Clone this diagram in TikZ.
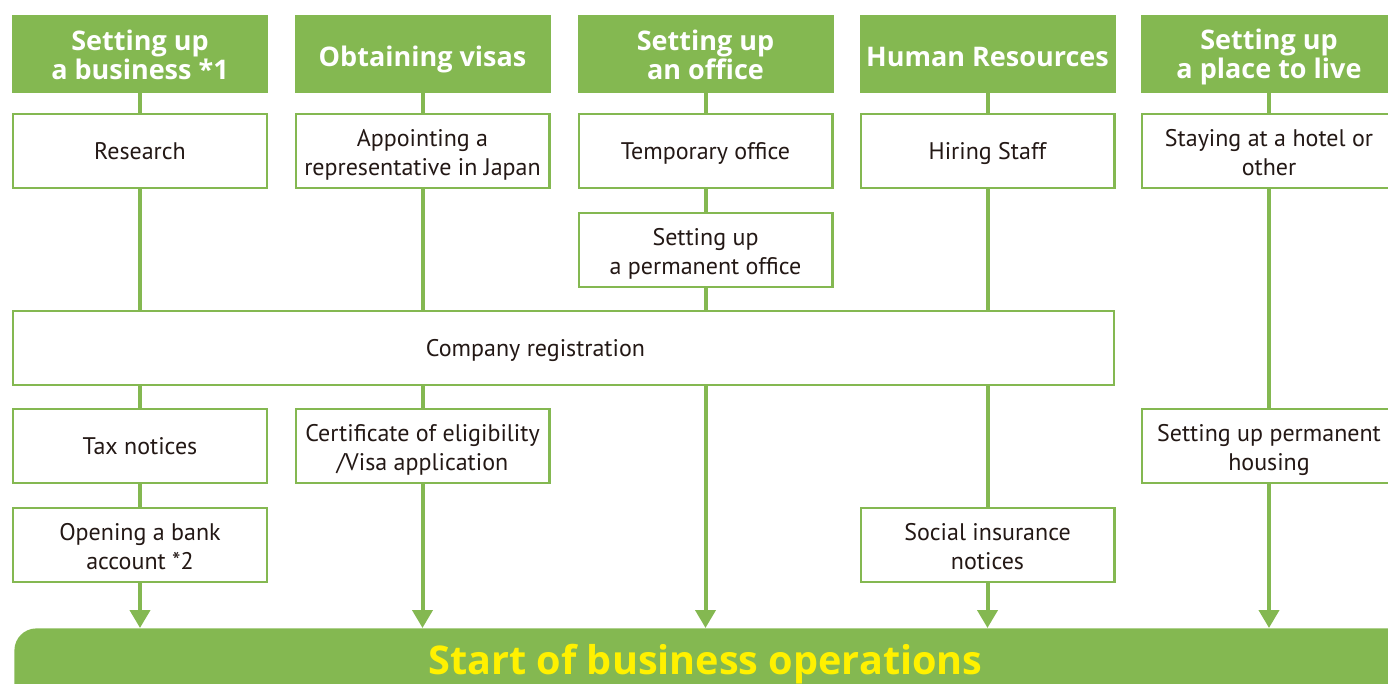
\documentclass[tikz,border=0pt]{standalone}
\usepackage{fontspec}
\setmainfont{PT Sans}
\newfontfamily\headfont{Open Sans}
\usetikzlibrary{arrows.meta}
\definecolor{grn}{HTML}{84B851}
\definecolor{ink}{HTML}{231815}
\definecolor{yel}{HTML}{FFF100}
\newcommand{\itemstrut}{\rule[-2.7pt]{0pt}{13.7pt}}
\newcommand{\headstrut}{\rule[-2.5pt]{0pt}{18pt}}
\newcommand{\twoi}[2]{\rule{0pt}{13pt}#1\\#2\rule[-2.7pt]{0pt}{2.7pt}}
\newcommand{\twoh}[2]{\rule{0pt}{13.5pt}#1\\#2\rule[-2.5pt]{0pt}{2.5pt}}
\begin{document}
\begin{tikzpicture}[x=0.5pt,y=-0.5pt,
  head/.style={fill=grn, draw=none, minimum width=128pt, minimum height=39pt,
    text=white, font=\headfont\bfseries\fontsize{13.5}{14.5}\selectfont, align=center, inner sep=0pt},
  headone/.style={head, execute at begin node=\headstrut, execute at end node=\headstrut},
  item/.style={draw=grn, line width=1.2pt, fill=white, minimum width=126.8pt, minimum height=37pt,
    text=ink, font=\fontsize{12}{14.5}\selectfont, align=center, inner sep=0pt},
  itemone/.style={item, execute at begin node=\itemstrut, execute at end node=\itemstrut},
  link/.style={draw=grn, line width=2pt},
  arr/.style={link, -{Triangle[width=10pt,length=9pt]}}]
\useasboundingbox (0,0) rectangle (1388,684);
\clip (0,0) rectangle (1388,684);

% bottom bar
\node[fill=grn, draw=none, rounded corners=11pt, minimum width=700pt, minimum height=45pt,
  anchor=north west, inner sep=0pt] (bar) at (14,628) {};
\node[text=yel, font=\headfont\bfseries\fontsize{19.8}{21}\selectfont, inner sep=0pt, anchor=base] (bartext) at (705.5,674) {Start of business operations};

% headers
\node[head] (h1) at (140,54) {\twoh{Setting up}{a business *1}};
\node[headone] (h2) at (422.5,54) {Obtaining visas};
\node[head] (h3) at (705.5,54) {\twoh{Setting up}{an office}};
\node[headone] (h4) at (987.5,54) {Human Resources};
\node[head] (h5) at (1269,54) {\twoh{Setting up}{a place to live}};

% boxes
\node[itemone] (research) at (140,151) {Research};
\node[item] (appoint) at (422.5,151) {\twoi{Appointing a}{representative in Japan}};
\node[itemone] (temp) at (705.5,151) {Temporary office};
\node[itemone] (hiring) at (987.5,151) {Hiring Staff};
\node[item] (hotel) at (1269,151) {\twoi{Staying at a hotel or}{other}};
\node[item] (perm) at (705.5,250) {\twoi{Setting up}{a permanent office}};
\node[itemone, minimum width=550.3pt] (reg) at (563.5,348) {\hspace*{-28pt}Company registration};
\node[itemone] (tax) at (140,446) {Tax notices};
\node[item] (cert) at (422.5,446) {\twoi{Certificate of eligibility}{/Visa application}};
\node[item] (housing) at (1269,446) {\twoi{Setting up permanent}{housing}};
\node[item] (bank) at (140,545) {\twoi{Opening a bank}{account *2}};
\node[item] (social) at (987.5,545) {\twoi{Social insurance}{notices}};

% connectors column 1
\draw[link] (h1) -- (research);
\draw[link] (research) -- (research |- reg.north);
\draw[link] (tax |- reg.south) -- (tax);
\draw[link] (tax) -- (bank);
\draw[arr] (bank) -- (bank |- bar.north);
% column 2
\draw[link] (h2) -- (appoint);
\draw[link] (appoint) -- (appoint |- reg.north);
\draw[link] (cert |- reg.south) -- (cert);
\draw[arr] (cert) -- (cert |- bar.north);
% column 3
\draw[link] (h3) -- (temp);
\draw[link] (temp) -- (perm);
\draw[link] (perm) -- (perm |- reg.north);
\draw[arr] (perm |- reg.south) -- (perm |- bar.north);
% column 4
\draw[link] (h4) -- (hiring);
\draw[link] (hiring) -- (hiring |- reg.north);
\draw[link] (social |- reg.south) -- (social);
\draw[arr] (social) -- (social |- bar.north);
% column 5
\draw[link] (h5) -- (hotel);
\draw[link] (hotel) -- (housing);
\draw[arr] (housing) -- (housing |- bar.north);
\end{tikzpicture}
\end{document}
